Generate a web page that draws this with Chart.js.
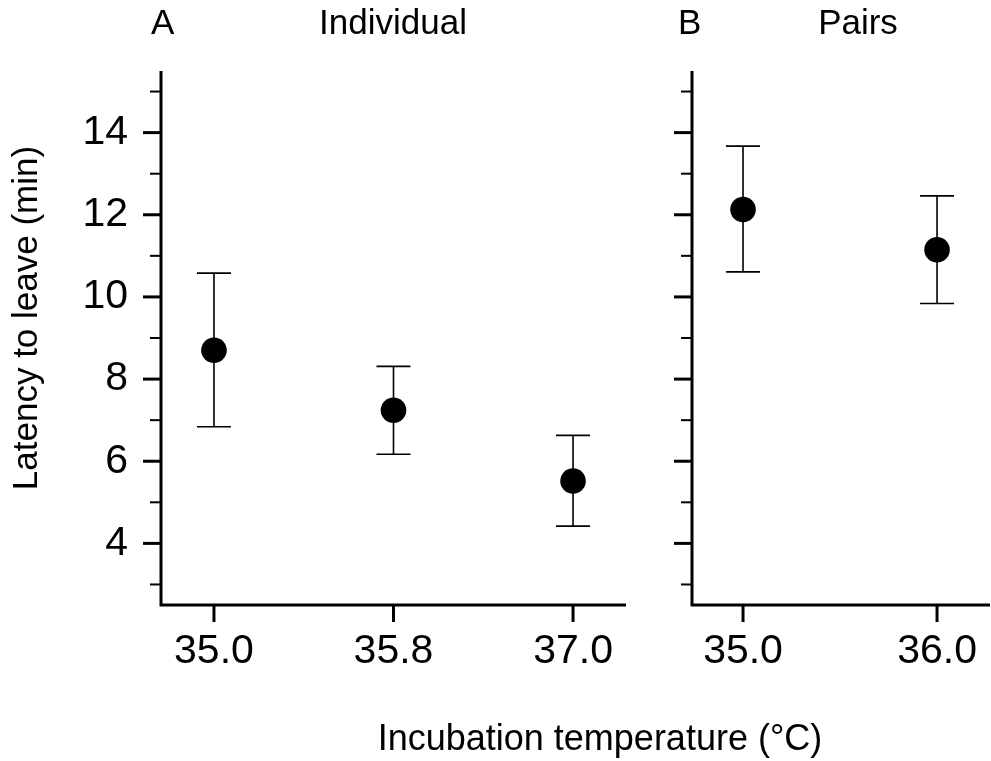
<!DOCTYPE html>
<html>
<head>
<meta charset="utf-8">
<script src="https://cdn.jsdelivr.net/npm/chart.js@4/dist/chart.umd.min.js"></script>
<style>
  html, body { margin: 0; padding: 0; background: #fff; }
  #wrap { position: relative; width: 991px; height: 761px; }
  #wrap canvas { position: absolute; left: 0; top: 0; }
</style>
</head>
<body>
<div id="wrap">
  <canvas id="panelA" width="991" height="761"></canvas>
  <canvas id="panelB" width="991" height="761"></canvas>
</div>
<script>
// Panel A: individuals
const individualTemps = ["35.0", "35.8", "37.0"]
const individualMean = [8.70, 7.24, 5.52]
const individualUpper = [10.58, 8.31, 6.63]
const individualLower = [6.84, 6.17, 4.42]

// Panel B: pairs
const pairTemps = ["35.0", "36.0"]
const pairMean = [12.13, 11.15]
const pairUpper = [13.67, 12.46]
const pairLower = [10.61, 9.84]

// y axis ticks (labelled / unlabelled)
const yMajorTicks = [4, 6, 8, 10, 12, 14]
const yMinorTicks = [3, 5, 7, 9, 11, 13, 15]

const FONT = '"Liberation Sans", Arial, Helvetica, sans-serif'

// vertical error bars with caps, drawn under the points
function errorBars(upper, lower) {
  return {
    id: "errorBars",
    beforeDatasetsDraw(chart) {
      const { ctx, scales: { x, y } } = chart
      ctx.save()
      ctx.strokeStyle = "#000"
      ctx.lineWidth = 1.6
      upper.forEach((hi, i) => {
        const px = x.getPixelForValue(i)
        const top = y.getPixelForValue(hi)
        const bottom = y.getPixelForValue(lower[i])
        ctx.beginPath()
        ctx.moveTo(px, top)
        ctx.lineTo(px, bottom)
        ctx.moveTo(px - 17, top)
        ctx.lineTo(px + 17, top)
        ctx.moveTo(px - 17, bottom)
        ctx.lineTo(px + 17, bottom)
        ctx.stroke()
      })
      ctx.restore()
    },
  }
}

// L-shaped frame with long major and short minor ticks
const axisFrame = {
  id: "axisFrame",
  afterDraw(chart) {
    const { ctx, chartArea: a, scales: { x, y } } = chart
    ctx.save()
    ctx.strokeStyle = "#000"
    ctx.lineWidth = 3
    ctx.lineJoin = "miter"
    ctx.beginPath()
    ctx.moveTo(a.left, a.top)
    ctx.lineTo(a.left, a.bottom)
    ctx.lineTo(a.right, a.bottom)
    ctx.stroke()

    y.ticks.forEach((t) => {
      const py = y.getPixelForValue(t.value)
      const major = yMajorTicks.includes(t.value)
      ctx.lineWidth = major ? 3 : 2
      ctx.beginPath()
      ctx.moveTo(a.left - (major ? 18 : 11), py)
      ctx.lineTo(a.left, py)
      ctx.stroke()
    })

    ctx.lineWidth = 3
    x.ticks.forEach((t) => {
      const px = x.getPixelForValue(t.value)
      ctx.beginPath()
      ctx.moveTo(px, a.bottom)
      ctx.lineTo(px, a.bottom + 17)
      ctx.stroke()
    })
    ctx.restore()
  },
}

// free text: panel letters, panel titles and axis titles
function textLabels(items) {
  return {
    id: "textLabels",
    afterDraw(chart) {
      const { ctx } = chart
      ctx.save()
      ctx.fillStyle = "#000"
      ctx.textBaseline = "alphabetic"
      items.forEach((it) => {
        ctx.save()
        ctx.font = `${it.size}px ${FONT}`
        ctx.textAlign = it.align || "left"
        ctx.translate(it.x, it.y)
        if (it.rotate) ctx.rotate(it.rotate)
        ctx.fillText(it.text, 0, 0)
        ctx.restore()
      })
      ctx.restore()
    },
  }
}

// padLeft + yWidth gives the left edge of the plot area
function panelOptions(labels, xMin, xMax, padLeft, yWidth, padRight, showY) {
  return {
    responsive: false,
    animation: false,
    events: [],
    layout: {
      autoPadding: false,
      padding: { left: padLeft, top: 71, right: padRight, bottom: 0 },
    },
    plugins: {
      legend: { display: false },
      tooltip: { enabled: false },
    },
    scales: {
      x: {
        type: "linear",
        min: xMin,
        max: xMax,
        afterBuildTicks: (s) => {
          s.ticks = labels.map((_, i) => ({ value: i }))
        },
        afterFit: (s) => {
          s.height = 156
          s.paddingLeft = 0
          s.paddingRight = 0
        },
        grid: { display: false, drawTicks: false },
        border: { display: false },
        ticks: {
          autoSkip: false,
          maxRotation: 0,
          padding: 22,
          color: "#000",
          font: { family: FONT, size: 41 },
          callback: (v, i) => labels[i],
        },
      },
      y: {
        type: "linear",
        min: 2.5,
        max: 15.5,
        afterBuildTicks: (s) => {
          s.ticks = [...yMinorTicks, ...yMajorTicks]
            .sort((p, q) => p - q)
            .map((v) => ({ value: v }))
        },
        afterFit: (s) => {
          s.width = yWidth
          s.paddingTop = 0
          s.paddingBottom = 0
        },
        grid: { display: false, drawTicks: false },
        border: { display: false },
        ticks: {
          autoSkip: false,
          padding: 33,
          color: "#000",
          font: { family: FONT, size: 41 },
          callback: (v) => (showY && yMajorTicks.includes(v) ? v : ""),
        },
      },
    },
  }
}

function pointData(means) {
  return {
    datasets: [
      {
        type: "scatter",
        data: means.map((m, i) => ({ x: i, y: m })),
        pointRadius: 12.8,
        pointBackgroundColor: "#000",
        pointBorderWidth: 0,
        showLine: false,
        clip: false,
      },
    ],
  }
}

new Chart(document.getElementById("panelA"), {
  type: "scatter",
  data: pointData(individualMean),
  options: panelOptions(individualTemps, -0.295, 2.295, 0, 161, 365, true),
  plugins: [
    errorBars(individualUpper, individualLower),
    axisFrame,
    textLabels([
      { text: "A", x: 151, y: 34, size: 35 },
      { text: "Individual", x: 393, y: 34, size: 35, align: "center" },
      { text: "Latency to leave (min)", x: 37, y: 318, size: 35, align: "center", rotate: -Math.PI / 2 },
      { text: "Incubation temperature (\u00B0C)", x: 600, y: 750, size: 36, align: "center" },
    ]),
  ],
})

new Chart(document.getElementById("panelB"), {
  type: "scatter",
  data: pointData(pairMean),
  options: panelOptions(pairTemps, -0.263, 1.273, 662, 30, 1, false),
  plugins: [
    errorBars(pairUpper, pairLower),
    axisFrame,
    textLabels([
      { text: "B", x: 678, y: 34, size: 35 },
      { text: "Pairs", x: 858, y: 34, size: 35, align: "center" },
    ]),
  ],
})
</script>
</body>
</html>
